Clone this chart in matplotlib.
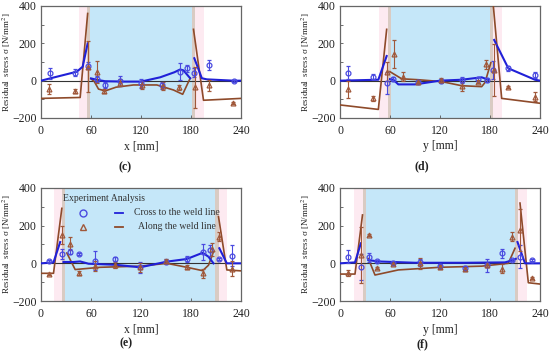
import numpy as np
import matplotlib
matplotlib.use("Agg")
import matplotlib.pyplot as plt

plt.rcParams['font.family'] = ['Liberation Serif', 'DejaVu Serif']
plt.rcParams['mathtext.fontset'] = 'stix'

nan = np.nan

# ---------- panel (c) ----------
c_cross_x = [0, 43, 50, 56, nan, 60, 64, 69, 77, 100, 120, 143, 160, 167, 171, 179, nan, 184, 193, 199, 231, 240]
c_cross_y = [0, 48, 75, 200, nan, 12, 8, 3, -3, -5, -5, 18, 45, 60, 55, 13, nan, 120, 13, 7, 0, 0]
c_along_x = [0, 47, 56, nan, 60, 64, 69, 77, 90, 111, 139, 159, 170, 179, nan, 183, 195, 240]
c_along_y = [-95, -90, 360, nan, 10, -5, -45, -55, -35, -23, -23, -50, -73, 13, nan, 275, -105, -95]
c_exp_cross_x = [11, 41, 56, 67, 77, 95, 120, 145, 167, 175, 184, 201, 231]
c_exp_cross_y = [40, 43, 80, 9, -24, -2, -15, -25, 48, 66, 43, 84, 0]
c_exp_cross_e = [30, 20, 20, 15, 15, 25, 25, 20, 45, 20, 25, 25, 5]
c_exp_along_x = [10, 41, 56, 67, 76, 95, 121, 146, 166, 185, 201, 230]
c_exp_along_y = [-45, -54, 75, 48, -55, -11, -23, -29, -36, -36, -25, -118]
c_exp_along_e = [25, 10, 135, 60, 10, 20, 20, 20, 15, 110, 30, 5]

# ---------- panel (d) ----------
d_cross_x = [0, 46, 56, nan, 60, 64, 70, 90, 120, 146, 170, 178, nan, 185, 202, 234, 240]
d_cross_y = [0, 5, 132, nan, 8, 5, -20, -20, 0, 5, 18, 5, nan, 218, 66, 5, 0]
d_along_x = [0, 46, 56, nan, 60, 74, 94, 122, 146, 170, 174, 181, nan, 184, 194, 240]
d_along_y = [-130, -154, 275, nan, 48, 10, 5, -5, -27, -32, -10, 96, nan, 400, -95, -121]
d_exp_cross_x = [10, 40, 56, 64, 94, 121, 146, 166, 176, 184, 202, 234]
d_exp_cross_y = [43, 22, -14, 8, -5, 0, 5, 10, 5, 57, 66, 30]
d_exp_cross_e = [35, 15, 60, 10, 5, 10, 15, 10, 10, 50, 15, 15]
d_exp_along_x = [10, 40, 56, 65, 76, 94, 121, 146, 166, 175, 185, 202, 234]
d_exp_along_y = [-46, -95, 48, 141, 22, -5, 5, -30, -5, 88, 57, -36, -86]
d_exp_along_e = [45, 15, 50, 75, 25, 5, 10, 25, 10, 25, 140, 5, 25]

# ---------- panel (e) ----------
e_cross_x = [0, 15, 23, nan, 27, 39, 47, 57, 90, 119, 151, 175, 194, 201, 207, nan, 214, 223, 240]
e_cross_y = [0, 5, 113, nan, 7, 7, 10, -2, -8, -21, 9, 23, 56, 35, 0, nan, 80, 0, 0]
e_along_x = [0, 15, 25, nan, 31, 41, 71, 119, 151, 175, 194, 201, 207, nan, 213, 223, 240]
e_along_y = [-53, -53, 292, nan, 55, -33, -21, -15, 0, -21, -39, -10, 62, nan, 248, -35, -40]
e_exp_cross_x = [10, 25, 35, 45, 65, 89, 119, 150, 175, 194, 203, 213, 229]
e_exp_cross_y = [12, 50, 62, 50, 13, 22, -21, 9, 23, 60, 69, 24, 40]
e_exp_cross_e = [5, 25, 15, 5, 50, 10, 30, 15, 15, 40, 30, 5, 55]
e_exp_along_x = [10, 25, 35, 45, 65, 89, 119, 150, 175, 194, 205, 213, 229]
e_exp_along_y = [-58, 150, 105, -53, -15, -10, -21, 13, -21, -53, 75, 141, -28]
e_exp_along_e = [5, 50, 35, 10, 25, 15, 25, 10, 10, 25, 35, 25, 40]

# ---------- panel (f) ----------
f_cross_x = [0, 18, 25, nan, 34, 46, 90, 150, 198, 206, 211, nan, 213, 222, 240]
f_cross_y = [0, 5, 106, nan, 17, 10, 3, 3, 5, 15, 24, nan, 113, 0, 0]
f_along_x = [0, 18, 27, nan, 34, 42, 70, 120, 170, 202, 210, nan, 216, 226, 240]
f_along_y = [-57, -57, 257, nan, 25, -62, -35, -21, -15, 0, 80, nan, 320, -103, -110]
f_exp_cross_x = [9, 25, 35, 44, 64, 96, 120, 150, 176, 194, 206, 216, 230]
f_exp_cross_y = [35, -21, 31, 12, 0, 5, -15, -25, -10, 53, 17, 35, 17]
f_exp_cross_e = [35, 70, 25, 5, 10, 20, 10, 10, 35, 25, 5, 60, 5]
f_exp_along_x = [9, 25, 35, 44, 64, 96, 120, 150, 176, 194, 206, 216, 230]
f_exp_along_y = [-53, 44, 150, -27, -5, 0, -21, -32, -10, -28, 141, 177, -80]
f_exp_along_e = [15, 150, 5, 5, 5, 30, 10, 10, 10, 25, 25, 110, 5]

# weld zones: (tan band left start, blue start, blue end, tan band right end)
zones = {
    'c': (55, 59, 181, 185),
    'd': (57, 61, 180, 184),
    'e': (25, 29, 209, 213),
    'f': (27, 31, 210, 214),
}

x_ticks = [0, 60, 120, 180, 240]
y_ticks = [-200, 0, 200, 400]
y_tick_labels = ['\u2212200', '0', '200', '400']

panels = {
    'c': dict(xl='x [mm]', cross=(c_cross_x, c_cross_y), along=(c_along_x, c_along_y),
              ec=(c_exp_cross_x, c_exp_cross_y, c_exp_cross_e), ea=(c_exp_along_x, c_exp_along_y, c_exp_along_e)),
    'd': dict(xl='y [mm]', cross=(d_cross_x, d_cross_y), along=(d_along_x, d_along_y),
              ec=(d_exp_cross_x, d_exp_cross_y, d_exp_cross_e), ea=(d_exp_along_x, d_exp_along_y, d_exp_along_e)),
    'e': dict(xl='x [mm]', cross=(e_cross_x, e_cross_y), along=(e_along_x, e_along_y),
              ec=(e_exp_cross_x, e_exp_cross_y, e_exp_cross_e), ea=(e_exp_along_x, e_exp_along_y, e_exp_along_e)),
    'f': dict(xl='y [mm]', cross=(f_cross_x, f_cross_y), along=(f_along_x, f_along_y),
              ec=(f_exp_cross_x, f_exp_cross_y, f_exp_cross_e), ea=(f_exp_along_x, f_exp_along_y, f_exp_along_e)),
}

W, H = 550, 359
fig = plt.figure(figsize=(5.5, 3.59), dpi=100)

boxes = {  # left, top, right, bottom in pixels
    'c': (41, 6, 241, 118),
    'd': (340, 6, 540, 118),
    'e': (41, 188, 241, 301),
    'f': (340, 188, 540, 301),
}
labels_pos = {'c': (125, 167), 'd': (422, 166), 'e': (126, 343), 'f': (422, 344)}

BLUE = '#2020d8'
BROWN = '#8e4a2a'
CIRC = '#4a4ae0'
TRI = '#a0583a'

for key, p in panels.items():
    l, t, r, b = boxes[key]
    ax = fig.add_axes([l / W, 1 - b / H, (r - l) / W, (b - t) / H])
    z0, z1, z2, z3 = zones[key]
    ax.axvspan(z0 - 10, z0, color='#fdeaf1', lw=0, zorder=0)
    ax.axvspan(z3, z3 + 10, color='#fdeaf1', lw=0, zorder=0)
    ax.axvspan(z0, z1, color='#d9cbc3', lw=0, zorder=0)
    ax.axvspan(z1, z2, color='#c5e7f9', lw=0, zorder=0)
    ax.axvspan(z2, z3, color='#d9cbc3', lw=0, zorder=0)
    ax.axhline(0, color='#333333', lw=0.8, zorder=1)
    ax.plot(*p['along'], color=BROWN, lw=1.2, zorder=3)
    ax.plot(*p['cross'], color=BLUE, lw=1.5, zorder=4)
    ex, ey, ee = p['ec']
    ax.errorbar(ex, ey, yerr=ee, fmt='o', ms=3.5, mfc='none', mec=CIRC, mew=0.9,
                ecolor=CIRC, elinewidth=0.8, capsize=1.5, capthick=0.8, zorder=5)
    ex, ey, ee = p['ea']
    ax.errorbar(ex, ey, yerr=ee, fmt='^', ms=3.5, mfc='none', mec=TRI, mew=0.9,
                ecolor=TRI, elinewidth=0.8, capsize=1.5, capthick=0.8, zorder=5)
    ax.set_xlim(0, 240)
    ax.set_ylim(-200, 400)
    ax.set_xticks(x_ticks)
    ax.set_xticklabels([str(v) for v in x_ticks])
    ax.set_yticks(y_ticks)
    ax.set_yticklabels(y_tick_labels)
    ax.set_yticks([-100, 100, 300], minor=True)
    ax.tick_params(which='both', direction='in', length=2.5, width=0.6, color='#555555',
                   labelsize=8.5, labelcolor='#222222')
    ax.tick_params(axis='x', pad=5)
    ax.tick_params(axis='y', pad=3)
    for s in ax.spines.values():
        s.set_color('#666666')
        s.set_linewidth(0.9)
    ax.set_xlabel(p['xl'], fontsize=8.5, color='#222222')
    ax.xaxis.set_label_coords(0.5, -0.2)
    ax.set_ylabel('Residual  stress \u03c3 [N/mm$^2$]', fontsize=6.5, color='#222222')
    ax.yaxis.set_label_coords(-0.14, 0.5)
    lx, ly = labels_pos[key]
    fig.text(lx / W, 1 - ly / H, f'({key})', ha='center', va='center', fontsize=8.5,
             fontweight='bold', color='#222222')
    if key == 'e':
        ax.text(0.11, 0.905, 'Experiment Analysis', transform=ax.transAxes, fontsize=7,
                ha='left', va='center', color='#333333')
        ax.plot([0.21], [0.78], 'o', transform=ax.transAxes, ms=5, mfc='none', mec=CIRC, mew=1)
        ax.plot([0.21], [0.655], '^', transform=ax.transAxes, ms=5, mfc='none', mec=TRI, mew=1)
        ax.plot([0.37, 0.41], [0.78, 0.78], transform=ax.transAxes, color=BLUE, lw=1.3)
        ax.plot([0.37, 0.41], [0.655, 0.655], transform=ax.transAxes, color=BROWN, lw=1.3)
        ax.text(0.68, 0.78, 'Cross to the weld line', transform=ax.transAxes, fontsize=7,
                ha='center', va='center', color='#333333')
        ax.text(0.68, 0.655, 'Along the weld line', transform=ax.transAxes, fontsize=7,
                ha='center', va='center', color='#333333')

fig.savefig('out.png', dpi=100)
